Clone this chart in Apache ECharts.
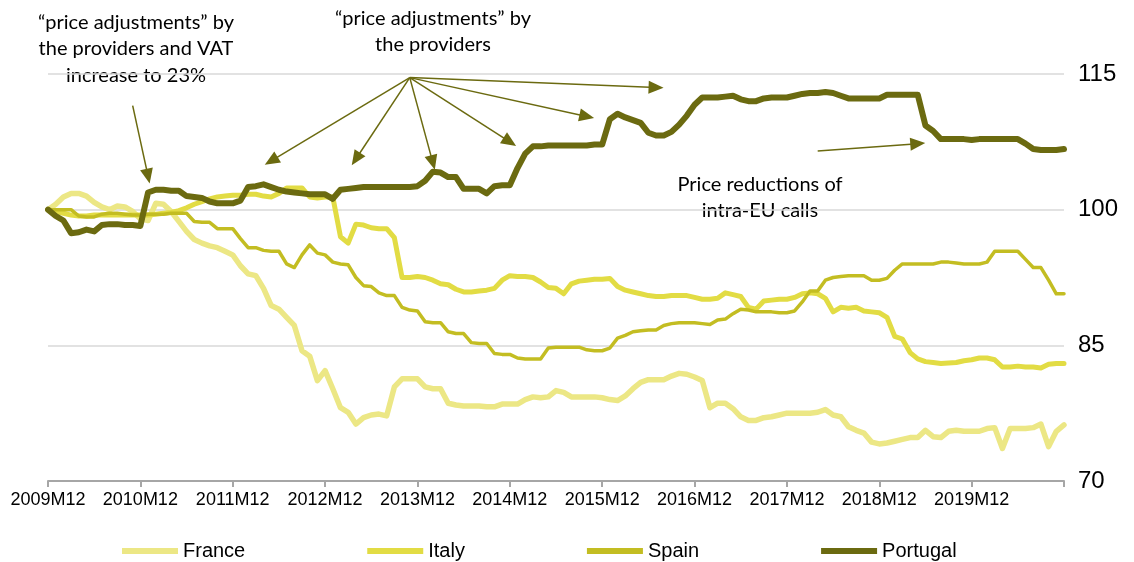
<!DOCTYPE html>
<html>
<head>
<meta charset="utf-8">
<script src="https://cdn.jsdelivr.net/npm/echarts@6/dist/echarts.min.js"></script>
<style>
  html, body { margin: 0; padding: 0; background: #fff; }
  #chart { width: 1134px; height: 562px; }
</style>
</head>
<body>
<div id="chart"></div>
<script>
// monthly categories 2009M12 .. 2020M12
const months = []
for (let y = 2009; y <= 2020; y++) {
    for (let m = 1; m <= 12; m++) {
        if (y === 2009 && m < 12) continue
        months.push(y + 'M' + String(m).padStart(2, '0'))
    }
}

const france = [
    100, 100.6, 101.4, 101.8, 101.8, 101.5, 100.8, 100.3, 100.0, 100.4, 100.3, 99.8, 99.0,
    98.8, 100.7, 100.6, 99.8, 98.7, 97.6, 96.7, 96.3, 96.0, 95.8, 95.4, 95.0,
    93.8, 92.9, 92.7, 91.3, 89.4, 89.0, 88.1, 87.2, 84.4, 83.8, 81.1, 82.2,
    80.2, 78.1, 77.6, 76.3, 77.0, 77.3, 77.4, 77.2, 80.4, 81.3, 81.3, 81.3,
    80.4, 80.2, 80.2, 78.6, 78.4, 78.3, 78.3, 78.3, 78.2, 78.2, 78.5, 78.5,
    78.5, 79.0, 79.3, 79.2, 79.3, 80.0, 79.8, 79.3, 79.3, 79.3, 79.3, 79.2,
    79.0, 78.9, 79.4, 80.2, 80.9, 81.2, 81.2, 81.2, 81.6, 81.9, 81.8, 81.5,
    81.1, 78.1, 78.6, 78.6, 78.0, 77.1, 76.7, 76.7, 77.0, 77.1, 77.3, 77.5,
    77.5, 77.5, 77.5, 77.6, 77.9, 77.3, 77.1, 76.0, 75.6, 75.3, 74.3, 74.1,
    74.2, 74.4, 74.6, 74.8, 74.8, 75.6, 74.9, 74.8, 75.5, 75.6, 75.5, 75.5,
    75.5, 75.8, 75.9, 73.6, 75.8, 75.8, 75.8, 75.9, 76.3, 73.8, 75.5, 76.2
]
const italy = [
    100, 99.8, 99.6, 99.4, 99.3, 99.3, 99.4, 99.4, 99.4, 99.4, 99.4, 99.4, 99.4,
    99.4, 99.5, 99.6, 99.7, 99.9, 100.2, 100.6, 100.9, 101.2, 101.4, 101.5, 101.6,
    101.6, 101.7, 101.7, 101.5, 101.4, 101.8, 102.4, 102.4, 102.4, 101.4, 101.3, 101.4,
    101.4, 97.0, 96.3, 98.4, 98.3, 98.0, 97.9, 97.9, 96.9, 92.5, 92.5, 92.6,
    92.5, 92.2, 91.8, 91.7, 91.2, 90.9, 90.9, 91.0, 91.1, 91.3, 92.2, 92.7,
    92.6, 92.6, 92.5, 92.0, 91.4, 91.3, 90.7, 91.8, 92.1, 92.2, 92.3, 92.3,
    92.4, 91.5, 91.1, 90.9, 90.7, 90.5, 90.4, 90.4, 90.5, 90.5, 90.5, 90.3,
    90.1, 90.1, 90.2, 90.8, 90.6, 90.4, 89.2, 89.0, 89.9, 90.0, 90.1, 90.1,
    90.3, 90.7, 90.8, 90.7, 90.2, 88.7, 89.2, 89.1, 89.2, 88.8, 88.7, 88.6,
    88.1, 86.0, 85.7, 84.2, 83.5, 83.2, 83.1, 83.0, 83.05, 83.1, 83.3, 83.4,
    83.6, 83.6, 83.4, 82.6, 82.6, 82.7, 82.6, 82.6, 82.5, 82.9, 83.0, 83.0
]
const spain = [
    100, 100, 100, 100, 99.3, 99.2, 99.2, 99.5, 99.6, 99.6, 99.5, 99.4, 99.4,
    99.5, 99.5, 99.5, 99.6, 99.6, 99.6, 98.7, 98.6, 98.6, 97.9, 97.9, 97.9,
    96.8, 95.8, 95.8, 95.5, 95.4, 95.4, 94.0, 93.6, 95.0, 96.1, 95.2, 95.0,
    94.2, 94.0, 93.9, 92.5, 91.6, 91.5, 90.8, 90.5, 90.5, 89.2, 88.9, 88.8,
    87.6, 87.5, 87.5, 86.5, 86.3, 86.3, 85.3, 85.2, 85.2, 84.1, 84.0, 84.0,
    83.6, 83.5, 83.5, 83.5, 84.7, 84.8, 84.8, 84.8, 84.8, 84.5, 84.4, 84.4,
    84.7, 85.8, 86.1, 86.5, 86.6, 86.7, 86.7, 87.2, 87.4, 87.5, 87.5, 87.5,
    87.4, 87.3, 87.8, 87.9, 88.5, 89.0, 88.9, 88.7, 88.7, 88.7, 88.6, 88.6,
    88.8, 89.8, 91.0, 91.0, 92.2, 92.5, 92.6, 92.7, 92.7, 92.7, 92.2, 92.2,
    92.4, 93.3, 94.0, 94.0, 94.0, 94.0, 94.0, 94.2, 94.2, 94.1, 94.0, 94.0,
    94.0, 94.2, 95.4, 95.4, 95.4, 95.4, 94.5, 93.6, 93.6, 92.2, 90.7, 90.7
]
const portugal = [
    100, 99.3, 98.8, 97.4, 97.5, 97.8, 97.6, 98.3, 98.4, 98.4, 98.3, 98.3, 98.2,
    101.9, 102.2, 102.2, 102.1, 102.1, 101.5, 101.4, 101.3, 100.9, 100.7, 100.7, 100.7,
    101.0, 102.5, 102.6, 102.8, 102.5, 102.2, 102.0, 101.9, 101.8, 101.7, 101.7, 101.7,
    101.2, 102.2, 102.3, 102.4, 102.5, 102.5, 102.5, 102.5, 102.5, 102.5, 102.5, 102.6,
    103.2, 104.2, 104.1, 103.6, 103.6, 102.3, 102.3, 102.3, 101.8, 102.6, 102.7, 102.7,
    104.6, 106.2, 107.0, 107.0, 107.1, 107.1, 107.1, 107.1, 107.1, 107.1, 107.2, 107.2,
    110.0, 110.6, 110.2, 109.9, 109.6, 108.5, 108.2, 108.2, 108.6, 109.4, 110.4, 111.6,
    112.4, 112.4, 112.4, 112.5, 112.6, 112.2, 112.0, 112.0, 112.3, 112.4, 112.4, 112.4,
    112.6, 112.8, 112.9, 112.9, 113.0, 112.9, 112.6, 112.3, 112.3, 112.3, 112.3, 112.3,
    112.7, 112.7, 112.7, 112.7, 112.7, 109.3, 108.7, 107.8, 107.8, 107.8, 107.8, 107.7,
    107.8, 107.8, 107.8, 107.8, 107.8, 107.8, 107.3, 106.7, 106.6, 106.6, 106.6, 106.7
]

// annotation arrows, [monthIndex, value]
const fanFrom = [47.3, 114.6]
const fanTo = [[28.6, 105.4], [39.7, 105.6], [49.5, 105.2], [60.0, 107.5], [70.3, 110.3], [79.2, 113.5]]
const vatArrow = [[10.8, 111.5], [12.5, 103.7]]
const euArrow = [[99.8, 106.5], [112.8, 107.3]]

const olive = '#6b6a10'
let chart = echarts.init(document.getElementById('chart'))

let arrowData = fanTo.map(t => [{coord: fanFrom}, {coord: t}])
arrowData.push([{coord: vatArrow[0]}, {coord: vatArrow[1]}])
arrowData.push([{coord: euArrow[0]}, {coord: euArrow[1]}])

function mkSeries(name, data, color, width) {
    return {
        name: name,
        type: 'line',
        data: data,
        symbol: 'none',
        showSymbol: false,
        lineStyle: {color: color, width: width, cap: 'round', join: 'round'},
        itemStyle: {color: color},
        emphasis: {disabled: true},
        silent: true
    }
}

let series = [
    mkSeries('France', france, '#ece785', 5.5),
    mkSeries('Italy', italy, '#e2dc44', 5),
    mkSeries('Spain', spain, '#c3bd22', 3.5),
    mkSeries('Portugal', portugal, olive, 6)
]
series[3].markLine = {
    silent: true,
    symbol: ['none', 'triangle'],
    symbolSize: [13, 15],
    label: {show: false},
    lineStyle: {color: olive, width: 1.5, type: 'solid', opacity: 1},
    emphasis: {disabled: true},
    data: arrowData
}

const annFont = 'Lato, "Open Sans", sans-serif'
function annText(text, x, y) {
    return {
        type: 'text',
        x: x,
        y: y,
        silent: true,
        style: {
            text: text,
            fill: '#000',
            fontSize: 20,
            fontFamily: annFont,
            lineHeight: 26.5,
            align: 'center',
            textAlign: 'center',
            verticalAlign: 'top'
        }
    }
}

chart.setOption({
    animation: false,
    grid: {left: 48, right: 70, top: 74, bottom: 81},
    legend: {
        left: 117,
        top: 536,
        icon: 'rect',
        itemWidth: 56,
        itemHeight: 6,
        itemGap: 122,
        textStyle: {fontSize: 20, color: '#000', fontFamily: '"Liberation Sans", Arial'},
        data: ['France', 'Italy', 'Spain', 'Portugal']
    },
    xAxis: {
        type: 'category',
        data: months,
        boundaryGap: false,
        axisLine: {lineStyle: {color: '#a6a6a6', width: 2}},
        axisTick: {interval: 11, length: 6, lineStyle: {color: '#a6a6a6', width: 2}},
        axisLabel: {
            interval: (i) => i % 12 === 0 && i < 132,
            color: '#000',
            fontSize: 18,
            margin: 10,
            fontFamily: '"Liberation Sans", Arial'
        }
    },
    yAxis: {
        type: 'value',
        position: 'right',
        min: 70,
        max: 115,
        interval: 15,
        axisLine: {show: false},
        axisTick: {show: false},
        splitLine: {lineStyle: {color: '#d9d9d9', width: 1.5}},
        axisLabel: {color: '#000', fontSize: 24, margin: 14, fontFamily: '"Liberation Sans", Arial'}
    },
    graphic: [
        annText('“price adjustments” by\nthe providers and VAT\nincrease to 23%', 136, 9),
        annText('“price adjustments” by\nthe providers', 433, 5),
        annText('Price reductions of\nintra-EU calls', 760, 171)
    ],
    series: series
})
</script>
</body>
</html>
